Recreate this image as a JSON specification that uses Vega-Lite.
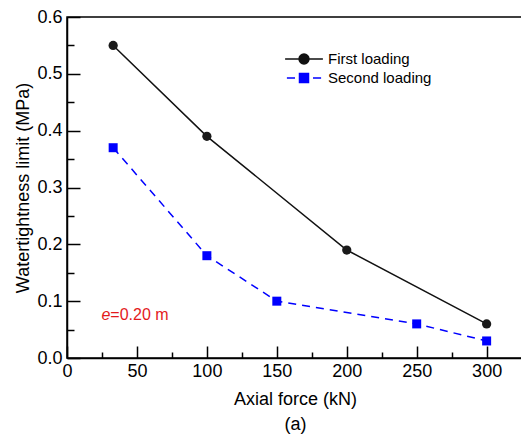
{
  "$schema": "https://vega.github.io/schema/vega-lite/v6.json",
  "width": 456,
  "height": 341,
  "autosize": "none",
  "padding": {"left": 67, "top": 17, "right": 0, "bottom": 76},
  "background": "white",
  "config": {
    "font": "Liberation Sans",
    "view": {"stroke": "black", "strokeWidth": 1.5},
    "axis": {
      "grid": false,
      "domainColor": "black",
      "domainWidth": 1.5,
      "tickColor": "black",
      "tickWidth": 1.5,
      "labelColor": "black",
      "labelFontSize": 18,
      "labelFlush": false,
      "labelOverlap": false,
      "titleColor": "black",
      "titleFontSize": 18,
      "titleFontWeight": "normal"
    }
  },
  "datasets": {
    "pts": [
      {"series": "First loading", "force": 33, "limit": 0.55},
      {"series": "First loading", "force": 100, "limit": 0.39},
      {"series": "First loading", "force": 200, "limit": 0.19},
      {"series": "First loading", "force": 300, "limit": 0.06},
      {"series": "Second loading", "force": 33, "limit": 0.37},
      {"series": "Second loading", "force": 100, "limit": 0.18},
      {"series": "Second loading", "force": 150, "limit": 0.10},
      {"series": "Second loading", "force": 250, "limit": 0.06},
      {"series": "Second loading", "force": 300, "limit": 0.03}
    ]
  },
  "data": {"name": "pts"},
  "resolve": {"axis": {"x": "independent", "y": "independent"}},
  "encoding": {
    "x": {"field": "force", "type": "quantitative", "scale": {"domain": [0, 326], "nice": false, "zero": false}, "axis": null},
    "y": {"field": "limit", "type": "quantitative", "scale": {"domain": [0, 0.6], "nice": false, "zero": false}, "axis": null}
  },
  "layer": [
    {
      "transform": [{"filter": "datum.series === 'First loading'"}],
      "mark": {"type": "line", "color": "#111111", "strokeWidth": 1.5},
      "encoding": {
        "x": {
          "field": "force",
          "type": "quantitative",
          "scale": {"domain": [0, 326], "nice": false, "zero": false},
          "axis": {
            "orient": "bottom",
            "values": [0, 50, 100, 150, 200, 250, 300],
            "tickSize": -12,
            "labelPadding": 16,
            "title": ["Axial force (kN)", "(a)"],
            "titleLineHeight": 25,
            "titlePadding": 10
          }
        },
        "y": {
          "field": "limit",
          "type": "quantitative",
          "scale": {"domain": [0, 0.6], "nice": false, "zero": false},
          "axis": {
            "orient": "left",
            "values": [0, 0.1, 0.2, 0.3, 0.4, 0.5, 0.6],
            "format": ".1f",
            "tickSize": -13,
            "labelPadding": 18,
            "title": "Watertightness limit (MPa)",
            "titlePadding": 4
          }
        }
      }
    },
    {
      "transform": [{"filter": "datum.series === 'Second loading'"}],
      "mark": {"type": "line", "color": "#0000ff", "strokeWidth": 1.5, "strokeDash": [8, 6]}
    },
    {
      "transform": [{"filter": "datum.series === 'First loading'"}],
      "mark": {"type": "point", "shape": "circle", "filled": true, "color": "#1a1a1a", "opacity": 1, "size": 85}
    },
    {
      "transform": [{"filter": "datum.series === 'Second loading'"}],
      "mark": {"type": "point", "shape": "square", "filled": true, "color": "#0000ff", "opacity": 1, "size": 81}
    },
    {
      "mark": {"type": "point", "filled": true, "opacity": 0, "size": 324},
      "encoding": {
        "x": {
          "field": "force",
          "type": "quantitative",
          "scale": {"domain": [0, 326], "nice": false, "zero": false},
          "axis": {
            "orient": "bottom",
            "values": [25, 75, 125, 175, 225, 275, 325],
            "tickSize": -6,
            "labels": false,
            "domain": false,
            "title": null
          }
        },
        "y": {
          "field": "limit",
          "type": "quantitative",
          "scale": {"domain": [0, 0.6], "nice": false, "zero": false},
          "axis": {
            "orient": "left",
            "values": [0.05, 0.15, 0.25, 0.35, 0.45, 0.55],
            "tickSize": -7,
            "labels": false,
            "domain": false,
            "title": null
          }
        },
        "color": {
          "field": "series",
          "type": "nominal",
          "scale": {"range": ["#111111", "#0000ff"]},
          "legend": {
            "orient": "none", "legendX": 227, "legendY": 32, "title": null,
            "symbolSize": 324, "symbolOpacity": 1, "symbolStrokeWidth": 1.5,
            "labelFontSize": 15, "labelColor": "black", "labelOffset": 14, "rowPadding": 1, "padding": 0,
            "encode": {"symbols": {"update": {"stroke": {"scale": "color", "field": "value"}, "opacity": {"value": 1}}}}
          }
        },
        "shape": {
          "field": "series",
          "type": "nominal",
          "scale": {"range": [
            "M-2.1,0H2.1M0.55,0A0.55,0.55,0,1,1,-0.55,0A0.55,0.55,0,1,1,0.55,0Z",
            "M-1.9,0H-1M1,0H1.9M-0.5,-0.5H0.5V0.5H-0.5Z"
          ]},
          "legend": {
            "orient": "none", "legendX": 227, "legendY": 32, "title": null,
            "symbolSize": 324, "symbolOpacity": 1, "symbolStrokeWidth": 1.5,
            "labelFontSize": 15, "labelColor": "black", "labelOffset": 14, "rowPadding": 1, "padding": 0,
            "encode": {"symbols": {"update": {"stroke": {"scale": "color", "field": "value"}, "opacity": {"value": 1}}}}
          }
        }
      }
    },
    {
      "transform": [{"filter": "datum.series === 'First loading' && datum.force === 33"}],
      "mark": {"type": "text", "text": "e", "fontStyle": "italic", "fontSize": 16, "align": "right", "baseline": "middle", "color": "#e31a1c"},
      "encoding": {"x": {"datum": 31, "type": "quantitative", "axis": null}, "y": {"datum": 0.076, "type": "quantitative", "axis": null}}
    },
    {
      "transform": [{"filter": "datum.series === 'First loading' && datum.force === 33"}],
      "mark": {"type": "text", "text": "=0.20 m", "fontSize": 16, "align": "left", "baseline": "middle", "color": "#e31a1c"},
      "encoding": {"x": {"datum": 31, "type": "quantitative", "axis": null}, "y": {"datum": 0.076, "type": "quantitative", "axis": null}}
    }
  ]
}
